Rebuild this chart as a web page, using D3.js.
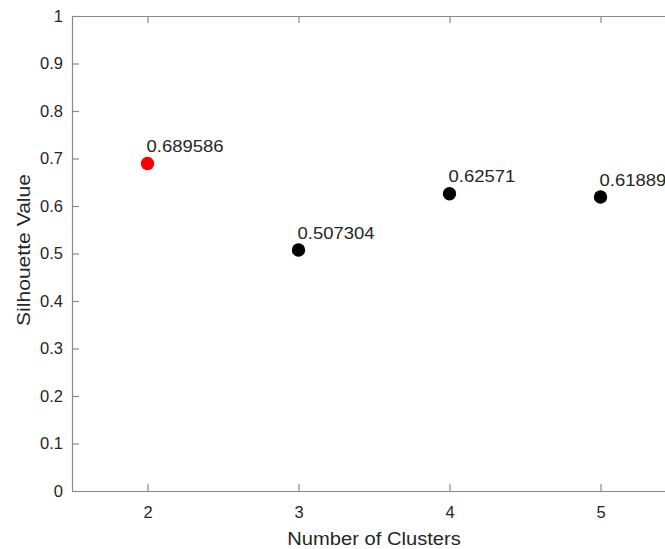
<!DOCTYPE html>
<html>
<head>
<meta charset="utf-8">
<script src="https://cdn.jsdelivr.net/npm/d3@7"></script>
<style>
  body { margin: 0; background: #fff; overflow: hidden; }
  text { font-family: "Liberation Sans", Arial, Helvetica, sans-serif; }
</style>
</head>
<body>
<div id="chart"></div>
<script>
// Données
const clusters = [2, 3, 4, 5];
const silhouette = [0.689586, 0.507304, 0.62571, 0.61889];
const labels = ["0.689586", "0.507304", "0.62571", "0.61889"];
const pointColors = ["#ff0000", "#000000", "#000000", "#000000"];
const yTicks = [0, 0.1, 0.2, 0.3, 0.4, 0.5, 0.6, 0.7, 0.8, 0.9, 1];

const width = 700, height = 549;
const margin = { top: 16, right: 24, bottom: 58, left: 72 };
const stretch = 1.12; // le texte de l'image est un peu étiré horizontalement

const svg = d3.select("#chart")
    .append("svg")
    .attr("width", width)
    .attr("height", height);

const x = d3.scaleLinear().domain([1.5, 5.5]).range([margin.left, width - margin.right]);
const y = d3.scaleLinear().domain([0, 1]).range([height - margin.bottom, margin.top]);

const axisColor = "#8a8a8a";
const textColor = "#262626";

// Axes (bas, gauche, haut, droite) façon MATLAB
const gx = svg.append("g")
    .attr("transform", "translate(0," + y(0) + ")")
    .call(d3.axisBottom(x).tickValues(clusters).tickFormat(d3.format("d"))
        .tickSizeInner(-7).tickSizeOuter(0).tickPadding(15));
const gy = svg.append("g")
    .attr("transform", "translate(" + x(1.5) + ",0)")
    .call(d3.axisLeft(y).tickValues(yTicks).tickFormat(d3.format(""))
        .tickSizeInner(-7).tickSizeOuter(0).tickPadding(9));
const gt = svg.append("g")
    .attr("transform", "translate(0," + y(1) + ")")
    .call(d3.axisTop(x).tickValues(clusters).tickSizeInner(-7).tickSizeOuter(0).tickFormat(""));
const gr = svg.append("g")
    .attr("transform", "translate(" + x(5.5) + ",0)")
    .call(d3.axisRight(y).tickValues(yTicks).tickSizeInner(-7).tickSizeOuter(0).tickFormat(""));

[gx, gy, gt, gr].forEach(g => {
    g.selectAll("path, line").attr("stroke", axisColor).attr("stroke-width", 1.2);
    g.selectAll("text").attr("fill", textColor).style("font-size", "16.5px")
        .style("font-family", '"Liberation Sans", Arial, sans-serif');
});

// Titres des axes
svg.append("text")
    .attr("transform", "translate(" + ((x(1.5) + x(5.5)) / 2) + ",545) scale(" + (stretch - 0.03) + ",1)")
    .attr("text-anchor", "middle")
    .attr("fill", textColor)
    .style("font-size", "18.5px")
    .text("Number of Clusters");

svg.append("text")
    .attr("transform", "translate(30,250) rotate(-90) scale(" + (stretch + 0.02) + ",1)")
    .attr("text-anchor", "middle")
    .attr("fill", textColor)
    .style("font-size", "18.5px")
    .text("Silhouette Value");

// Points
svg.selectAll(".pt")
    .data(clusters)
    .enter()
    .append("circle")
    .attr("class", "pt")
    .attr("cx", (d) => x(d))
    .attr("cy", (d, i) => y(silhouette[i]))
    .attr("r", 6.7)
    .attr("fill", (d, i) => pointColors[i]);

// Étiquettes des valeurs
svg.selectAll(".lbl")
    .data(clusters)
    .enter()
    .append("text")
    .attr("class", "lbl")
    .attr("transform", (d, i) => "translate(" + (x(d) - 1) + "," + (y(silhouette[i]) - 11.5) + ") scale(" + stretch + ",1)")
    .attr("fill", textColor)
    .style("font-size", "16.5px")
    .text((d, i) => labels[i]);
</script>
</body>
</html>
